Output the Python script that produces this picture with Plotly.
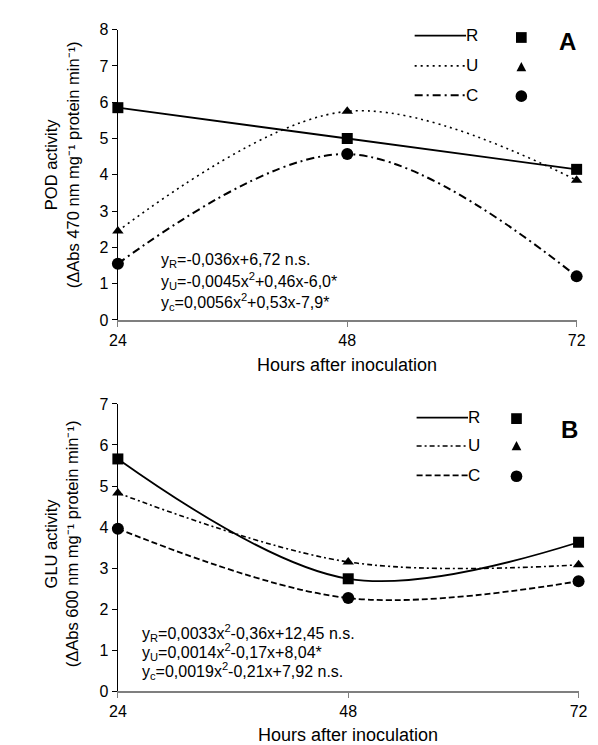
import plotly.graph_objects as go

W, H = 598, 745

hours = [24, 48, 72]

# Panel A: POD activity
pod_R = [5.85, 5.0, 4.15]
pod_U = [2.45, 5.75, 3.85]
pod_C = [1.55, 4.57, 1.2]

# Panel B: GLU activity
glu_R = [5.66, 2.74, 3.63]
glu_U = [4.83, 3.15, 3.08]
glu_C = [3.96, 2.27, 2.68]

x_ticks = [24, 48, 72]
pod_ticks = [0, 1, 2, 3, 4, 5, 6, 7, 8]
glu_ticks = [0, 1, 2, 3, 4, 5, 6, 7]

eq_A = ["y<sub>R</sub>=-0,036x+6,72 n.s.",
        "y<sub>U</sub>=-0,0045x<sup>2</sup>+0,46x-6,0*",
        "y<sub>c</sub>=0,0056x<sup>2</sup>+0,53x-7,9*"]
eq_B = ["y<sub>R</sub>=0,0033x<sup>2</sup>-0,36x+12,45 n.s.",
        "y<sub>U</sub>=0,0014x<sup>2</sup>-0,17x+8,04*",
        "y<sub>c</sub>=0,0019x<sup>2</sup>-0,21x+7,92 n.s."]

series_names = ["R", "U", "C"]

FONT = "Liberation Sans, Arial, sans-serif"

def px(x):
    return x / W

def py(y):
    return 1 - y / H

styles_A = {
    "R": dict(dash="solid", width=1.8),
    "U": dict(dash="2px,4px", width=1.6),
    "C": dict(dash="8px,4px,2px,4px", width=2.0),
}
styles_B = {
    "R": dict(dash="solid", width=1.8),
    "U": dict(dash="5px,3px,2px,3px", width=1.6),
    "C": dict(dash="6px,3px", width=1.8),
}
markers = {
    "R": dict(symbol="square", size=11),
    "U": dict(symbol="triangle-up", size=10),
    "C": dict(symbol="circle", size=12),
}

fig = go.Figure()

def add_panel(xa, ya, data, styles):
    for name, vals in zip(series_names, data):
        st = styles[name]
        fig.add_trace(go.Scatter(
            x=hours, y=vals, mode="lines+markers",
            line=dict(color="black", width=st["width"], dash=st["dash"], shape="spline", smoothing=1),
            marker=dict(color="black", **markers[name]),
            cliponaxis=False, showlegend=False, name=name,
            xaxis=xa, yaxis=ya))

add_panel("x", "y", [pod_R, pod_U, pod_C], styles_A)
add_panel("x2", "y2", [glu_R, glu_U, glu_C], styles_B)

axis_common = dict(showgrid=False, zeroline=False, showline=True, ticks="outside",
                   ticklen=5, tickfont=dict(family=FONT, size=16, color="black"))

fig.update_layout(
    width=W, height=H,
    margin=dict(l=0, r=0, t=0, b=0),
    paper_bgcolor="white", plot_bgcolor="white",
    font=dict(family=FONT, color="black"),
    xaxis=dict(domain=[px(104), px(577)], range=[24, 72], tickvals=x_ticks,
               linecolor="#7f7f7f", linewidth=1.5, tickcolor="#7f7f7f",
               anchor="y", **axis_common),
    yaxis=dict(domain=[py(311), py(14)], range=[0, 8], tickvals=pod_ticks,
               linecolor="black", linewidth=1.3, tickcolor="black",
               anchor="x", **axis_common),
    xaxis2=dict(domain=[px(104), px(579)], range=[24, 72], tickvals=x_ticks,
                linecolor="#7f7f7f", linewidth=1.5, tickcolor="#7f7f7f",
                anchor="y2", **axis_common),
    yaxis2=dict(domain=[py(691), py(397)], range=[0, 7], tickvals=glu_ticks,
                linecolor="black", linewidth=1.3, tickcolor="black",
                anchor="x2", **axis_common),
)

ann = []
shapes = []

def text(x, y, s, size, xanchor="left", bold=False, angle=0):
    ann.append(dict(x=px(x), y=py(y), xref="paper", yref="paper", text=("<b>%s</b>" % s) if bold else s,
                    showarrow=False, xanchor=xanchor, yanchor="middle", textangle=angle,
                    font=dict(family=FONT, size=size, color="black")))

# axis titles
text(46, 152, "POD activity<br>(ΔAbs 470 nm mg⁻¹ protein min⁻¹)", 16.5, xanchor="center", angle=-90)
text(46, 540, "GLU activity<br>(ΔAbs 600 nm mg⁻¹ protein min⁻¹)", 16.5, xanchor="center", angle=-90)
text(340, 357, "Hours after inoculation", 18, xanchor="center")
text(341, 736, "Hours after inoculation", 18, xanchor="center")

# equations
for i, s in enumerate(eq_A):
    text(146, 250 + 21.5 * i, s, 16)
for i, s in enumerate(eq_B):
    text(127, 631 + 19.5 * i, s, 16)

# panel letters
text(568, 26, "A", 24, xanchor="center", bold=True)
text(570, 423, "B", 24, xanchor="center", bold=True)

# legends
def legend(x0, x1, ys, styles, mx, mys, lx):
    for name, y, my in zip(series_names, ys, mys):
        st = styles[name]
        shapes.append(dict(type="line", xref="paper", yref="paper", x0=px(x0), x1=px(x1), y0=py(y), y1=py(y),
                           line=dict(color="black", width=st["width"], dash=st["dash"])))
        text(lx, y, name, 17)
        if name == "R":
            h = 5.5
            shapes.append(dict(type="rect", xref="paper", yref="paper", x0=px(mx - h), x1=px(mx + h),
                               y0=py(my - h), y1=py(my + h), fillcolor="black", line=dict(width=0)))
        elif name == "U":
            path = "M %f %f L %f %f L %f %f Z" % (px(mx - 5), py(my + 4.5), px(mx + 5), py(my + 4.5), px(mx), py(my - 5))
            shapes.append(dict(type="path", xref="paper", yref="paper", path=path, fillcolor="black", line=dict(width=0)))
        else:
            r = 6
            shapes.append(dict(type="circle", xref="paper", yref="paper", x0=px(mx - r), x1=px(mx + r),
                               y0=py(my - r), y1=py(my + r), fillcolor="black", line=dict(width=0)))

legend(410, 463, [20, 51, 81], styles_A, 520, [22, 52, 82], 461)
legend(412, 465, [411, 440, 470], styles_B, 515, [412, 440, 471], 463)

fig.update_layout(annotations=ann, shapes=shapes)

fig.write_html("out.html")
